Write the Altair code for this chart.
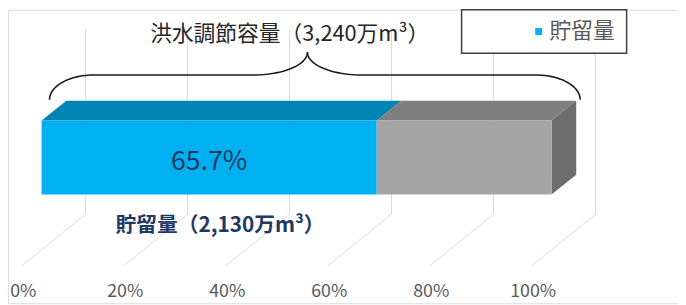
import math
import altair as alt
import pandas as pd

# ---------------- data ----------------
SEGMENTS = ["貯留量", "空き容量"]
SEG_START = [0.0, 65.7]
SEG_END = [65.7, 100.0]
STORED_PCT = 65.7
TICKS = [0, 20, 40, 60, 80, 100]
TICK_LABELS = ["0%", "20%", "40%", "60%", "80%", "100%"]
TITLE_TEXT = "洪水調節容量（3,240万m³）"
STORED_TEXT = "貯留量（2,130万m³）"
PCT_TEXT = "65.7%"

# ---------------- layout / style constants ----------------
W, H = 678, 297
PX = 5.16      # pixels per percent
X0 = 34        # chart pixel of 0 %
Y_BOT = 187    # chart pixel of bar bottom
U = 75         # pixels per y unit (front face height)


def xd(px):
    return (px - X0) / PX


def yd(py):
    return (Y_BOT - py) / U


XS = alt.Scale(domain=[xd(0), xd(W)], range=[0, W], nice=False, zero=False)
YS = alt.Scale(domain=[yd(H), yd(0)], nice=False, zero=False)

DX = 25 / PX
DY = 20 / U
FRONT_COL = ["#00B0F0", "#A5A5A5"]
TOP_COL = ["#0084B4", "#7F7F7F"]
SIDE_COL = "#6D6D6D"
NAVY = "#1F3864"
FONT = "Liberation Sans Narrow, Noto Sans CJK JP, sans-serif"
CJK = "Noto Sans CJK JP"

# ---------------- gridlines (back wall + floor) ----------------
WALL = 44.5 / PX
GRID_TOP = yd(20)
FLOOR_BACK = yd(207)
FLOOR_FRONT = yd(259)
FLOOR_DX = -20 / PX
grid_rows = []
for t in TICKS:
    grid_rows += [
        {"t": t, "o": 0, "x": t + WALL, "y": GRID_TOP},
        {"t": t, "o": 1, "x": t + WALL, "y": FLOOR_BACK},
        {"t": t, "o": 2, "x": t + FLOOR_DX, "y": FLOOR_FRONT},
    ]
grid = alt.Chart(pd.DataFrame(grid_rows)).mark_line(
    color="#D9D9D9", strokeWidth=1
).encode(
    x=alt.X("x:Q", scale=XS, axis=None),
    y=alt.Y("y:Q", scale=YS, axis=None),
    detail="t:N",
    order="o:Q",
)

labels = alt.Chart(pd.DataFrame({"t": TICKS, "label": TICK_LABELS})).transform_calculate(
    lx=f"datum.t + {FLOOR_DX + 1.5 / PX}", ly=f"{yd(286)}"
).mark_text(font=FONT, fontSize=18, color="#595959", baseline="middle", align="center").encode(
    x=alt.X("lx:Q", scale=XS, axis=None),
    y=alt.Y("ly:Q", scale=YS, axis=None),
    text="label:N",
)

# ---------------- bar faces ----------------
front_df = pd.DataFrame({"seg": SEGMENTS, "x": SEG_START, "x2": SEG_END,
                         "fill": FRONT_COL})
front_blue = alt.Chart(front_df.iloc[[0]]).transform_calculate(
    y0="0", y1="1"
).mark_rect().encode(
    x=alt.X("x:Q", scale=XS, axis=None),
    x2="x2:Q",
    y=alt.Y("y0:Q", scale=YS, axis=None),
    y2="y1:Q",
    color=alt.Color(
        "seg:N",
        scale=alt.Scale(domain=[SEGMENTS[0]], range=[FRONT_COL[0]]),
        legend=alt.Legend(
            title=None, orient="none", legendX=459, legendY=0,
            fillColor="white", strokeColor="#3F3F3F",
            padding=11, symbolType="square", symbolSize=49,
            symbolStrokeWidth=0, symbolOffset=56, labelOffset=0,
            labelFont=CJK, labelFontSize=22, labelColor="#595959",
            labelExpr="datum.label + '\u3000\u3000\u3000\u3000\u3000'",
            labelLimit=400,
        ),
    ),
)
front_gray = alt.Chart(front_df.iloc[[1]]).transform_calculate(
    y0="0", y1="1"
).mark_rect(color=FRONT_COL[1]).encode(
    x=alt.X("x:Q", scale=XS, axis=None),
    x2="x2:Q",
    y=alt.Y("y0:Q", scale=YS, axis=None),
    y2="y1:Q",
)

top_rows = []
for s, a, b, c in zip(SEGMENTS, SEG_START, SEG_END, TOP_COL):
    top_rows.append({"seg": s, "y": 1.0, "x": a, "x2": b, "fill": c})
    top_rows.append({"seg": s, "y": 1.0 + DY, "x": a + DX, "x2": b + DX, "fill": c})
top = alt.Chart(pd.DataFrame(top_rows)).mark_area(orient="horizontal").encode(
    y=alt.Y("y:Q", scale=YS, axis=None),
    x=alt.X("x:Q", scale=XS, axis=None, stack=None),
    x2="x2:Q",
    detail="seg:N",
    color=alt.Color("fill:N", scale=None),
)

END = SEG_END[-1]
side_df = pd.DataFrame([
    {"x": END, "y": 0.0, "y2": 1.0},
    {"x": END + DX, "y": DY, "y2": 1.0 + DY},
])
side = alt.Chart(side_df).mark_area(orient="vertical", color=SIDE_COL).encode(
    x=alt.X("x:Q", scale=XS, axis=None),
    y=alt.Y("y:Q", scale=YS, axis=None, stack=None),
    y2="y2:Q",
)

# ---------------- brace ----------------
BL, BR, BM = 42, 579, 303          # chart px: left tip, right tip, cusp
BT, BH, BC = 91, 66, 43            # chart py: tip, horizontal, cusp
A_END, B_MID = 45, 55
brace_rows = []
n = 24
for side_i, sgn in ((0, 1), (1, -1)):
    tip = BL if sgn == 1 else BR
    pts = []
    for k in range(n + 1):
        th = (math.pi / 2) * k / n
        pts.append((tip + sgn * A_END * (1 - math.cos(th)), BH + (BT - BH) * (1 - math.sin(th))))
    for k in range(n + 1):
        ph = (math.pi / 2) * k / n
        pts.append((BM - sgn * B_MID + sgn * B_MID * math.sin(ph), BC + (BH - BC) * math.cos(ph)))
    for i, (px, py) in enumerate(pts):
        brace_rows.append({"h": side_i, "o": i, "x": xd(px), "y": yd(py)})
brace = alt.Chart(pd.DataFrame(brace_rows)).mark_line(
    color="#1A1A1A", strokeWidth=1.6
).encode(
    x=alt.X("x:Q", scale=XS, axis=None),
    y=alt.Y("y:Q", scale=YS, axis=None),
    detail="h:N",
    order="o:Q",
)

# ---------------- texts ----------------
def text_layer(txt, x, y, **kw):
    return alt.Chart(pd.DataFrame({"txt": [txt], "x": [x], "y": [y]})).mark_text(
        baseline="middle", align="center", **kw
    ).encode(
        x=alt.X("x:Q", scale=XS, axis=None),
        y=alt.Y("y:Q", scale=YS, axis=None),
        text="txt:N",
    )


title_t = text_layer(TITLE_TEXT, xd(285), yd(25), font=FONT, fontSize=22, color="#262626")
pct_t = text_layer(PCT_TEXT, STORED_PCT / 2, yd(154), font=FONT, fontSize=27, color=NAVY)
stored_t = text_layer(STORED_TEXT, xd(214.5), yd(219), font=FONT, fontSize=21,
                      fontWeight="bold", color=NAVY)

chart = alt.layer(
    grid, labels, top, side, front_gray, front_blue, brace, title_t, pct_t, stored_t
).properties(
    width=W, height=H, padding=0, autosize=alt.AutoSizeParams(type="none")
).configure_view(stroke=None).configure(background="white").configure_legend(
    strokeWidth=1.5
)

chart.save("out.html", embed_options={"renderer": "svg", "actions": False})
